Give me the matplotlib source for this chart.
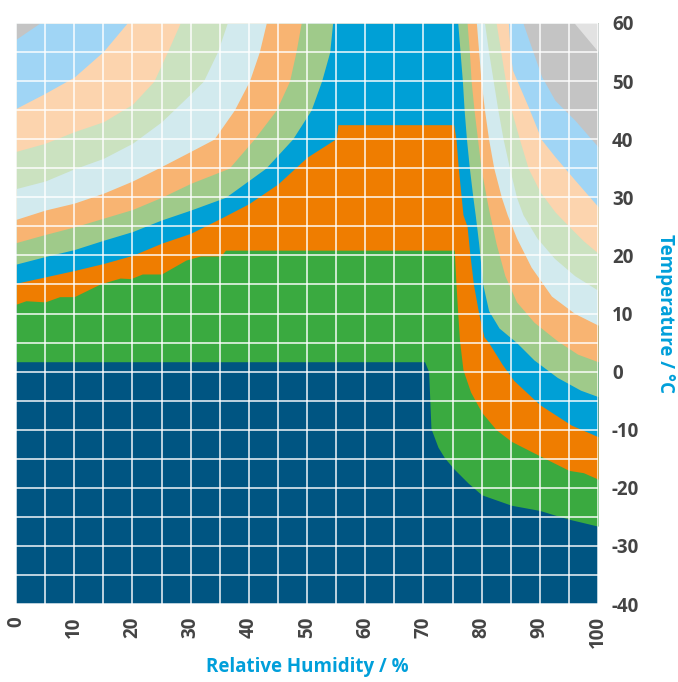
import matplotlib
matplotlib.use("Agg")
import matplotlib.pyplot as plt

# ---------------- data ----------------
rh_ticks = list(range(0, 101, 10))
t_ticks = list(range(-40, 61, 10))

level_colors = ["#005582", "#3AAA40", "#EF7D00", "#00A0D6", "#9FCA8A", "#F8B472",
                "#D2EAEE", "#CBE2C0", "#FCD4AE", "#A0D5F5", "#C4C4C4", "#E2E2E2"]

# lower boundary (temperature as function of RH) of the region with level >= k
lvl1_rh = [0, 70.2, 70.9, 71.3, 72.5, 73.6, 75.2, 77.7, 80, 85.1, 90, 92.6, 95.4, 100]
lvl1_t = [1.7, 1.7, 0, -9.8, -13, -14.8, -16.7, -19.2, -21.2, -23, -23.9, -24.7, -25.5, -26.6]

lvl2_rh = [0, 1.7, 5, 7.5, 10, 14.5, 17.9, 19.7, 21.7, 25, 29.2, 31.7, 35.2, 36, 75.3,
           75.6, 75.9, 76.2, 76.8, 78.1, 80, 82.5, 85.1, 90, 95, 97.5, 100]
lvl2_t = [11.6, 12.2, 12.0, 12.9, 12.9, 15.1, 16.1, 16.0, 16.8, 16.8, 19.2, 19.9, 19.9, 20.9, 20.9,
          15, 10, 5.4, 0.3, -3.5, -7, -10, -12, -14.5, -17.0, -17.4, -18.5]

lvl3_rh = [0, 5, 10, 15, 20, 25, 30, 35, 40, 45, 50, 55, 55.3, 75.2,
           75.6, 76.0, 76.8, 77.5, 78, 78.6, 79.5, 80.4, 81.2, 83.5, 85.5, 90, 95.4, 100]
lvl3_t = [15.2, 16.3, 17.4, 18.6, 20.0, 22.1, 23.8, 26.3, 28.9, 32.3, 36.9, 40.1, 42.5, 42.5,
          40, 35, 27, 25, 20, 15, 10, 6, 5, 1.3, -1.5, -5.7, -9.2, -11.2]

lvl4_rh = [0, 5, 10, 15, 20, 25, 30, 36, 42.9, 47.5, 50.7, 52.5, 53.9, 54.4, 75.9,
           76.3, 76.7, 77.0, 77.4, 77.9, 78.5, 78.9, 79.5, 80.2, 81.2, 83, 86, 89, 93, 97, 100]
lvl4_t = [18.5, 19.8, 21, 22.6, 24.1, 26.1, 27.8, 30, 35, 40, 45, 50, 55, 60, 60,
          55, 50, 45, 40, 35, 30, 27, 22, 15, 10.5, 7.5, 5, 2, -1, -3.2, -4.3]

lvl5_rh = [0, 5, 10, 15, 20, 25, 30, 36.6, 40.9, 44.7, 47, 48.1, 49, 77.5,
           77.9, 78.2, 78.7, 79.3, 79.9, 80.8, 81.4, 82.5, 84, 86, 89, 93, 96.5, 100]
lvl5_t = [22.2, 23.6, 24.9, 26.4, 27.9, 30, 32.4, 35, 40, 45, 50, 55, 60, 60,
          55, 50, 45, 40, 35, 30, 27, 22, 16.5, 12, 8.5, 5.3, 3, 1.7]

lvl6_rh = [0, 5, 10, 15, 20, 25, 30, 34, 37.5, 40.1, 41.8, 43, 79.1,
           79.5, 79.9, 80.5, 81.2, 82.1, 83.4, 84.4, 86, 88.5, 92, 96, 100]
lvl6_t = [26.2, 27.8, 29, 30.7, 32.8, 35.3, 37.9, 40, 45, 50, 55, 60, 60,
          55, 50, 45, 40, 35, 30, 27, 23, 18, 13, 10, 8]

lvl7_rh = [0, 5, 10, 15, 20, 25, 30, 32.2, 34.6, 36.3, 80.5,
           81.2, 82, 82.8, 83.7, 84.8, 86, 87.1, 89.5, 92.5, 96, 100]
lvl7_t = [31.5, 32.8, 34.9, 36.7, 39.3, 43.0, 47.8, 50, 55, 60, 60,
          55, 50, 45, 40, 35, 30, 27, 23, 19.5, 16.5, 14]

lvl8_rh = [0, 5, 10, 15, 20, 23.7, 26, 28.2, 82.5,
           83.3, 84.1, 85.1, 86.5, 88, 90, 92.6, 95, 97.5, 100]
lvl8_t = [37.9, 39.3, 41.3, 43.0, 46.0, 50, 55, 60, 60,
          55, 50, 45, 40, 35, 31, 27.5, 25, 22.5, 20.4]

lvl9_rh = [0, 5, 10, 15, 19.1, 84.6, 84.9, 85.3, 88, 90.3, 92.6, 96, 100]
lvl9_t = [45.3, 47.9, 50.7, 55.1, 60, 60, 55, 51.9, 45.6, 39.9, 37, 33, 28.4]

lvl10_rh = [0, 4.1, 87.1, 90.3, 92.6, 96, 100]
lvl10_t = [57.2, 60, 60, 50.8, 46.7, 43.3, 38.7]

lvl11_rh = [0, 95.9, 100]
lvl11_t = [60, 60, 55.1]

boundaries = [(lvl1_rh, lvl1_t), (lvl2_rh, lvl2_t), (lvl3_rh, lvl3_t), (lvl4_rh, lvl4_t),
              (lvl5_rh, lvl5_t), (lvl6_rh, lvl6_t), (lvl7_rh, lvl7_t), (lvl8_rh, lvl8_t),
              (lvl9_rh, lvl9_t), (lvl10_rh, lvl10_t), (lvl11_rh, lvl11_t)]

# ---------------- plot ----------------
fig = plt.figure(figsize=(6.78, 6.82), dpi=100)
ax = fig.add_axes([16 / 678, 78 / 682, 582 / 678, 581 / 682])

T_MIN, T_MAX = -40, 60
ax.fill_between([0, 100], [T_MIN, T_MIN], [T_MAX, T_MAX], color=level_colors[0], lw=0, zorder=1)
for k, (xs, ys) in enumerate(boundaries, start=1):
    ax.fill_between(xs, ys, T_MAX, color=level_colors[k], lw=0, zorder=1 + k * 0.01)

ax.set_xlim(0, 100)
ax.set_ylim(T_MIN, T_MAX)
ax.set_xticks(rh_ticks)
ax.set_xticks(range(5, 100, 10), minor=True)
ax.set_yticks(t_ticks)
ax.set_yticks(range(-35, 60, 10), minor=True)
ax.set_axisbelow(False)
ax.grid(which="both", color="white", lw=1.3, alpha=0.8)
for s in ax.spines.values():
    s.set_visible(False)

ax.yaxis.tick_right()
ax.yaxis.set_label_position("right")
ax.tick_params(which="both", length=0)
ax.tick_params(axis="y", pad=10)
ax.tick_params(axis="x", pad=9)

tick_font = dict(family="Open Sans", weight="bold", size=13.5, color="#444444")
ax.set_xticklabels([str(v) for v in rh_ticks], rotation=90, **tick_font)
ax.set_yticklabels([str(v) for v in t_ticks], **tick_font)

label_font = dict(family="Open Sans", weight="bold", size=13.5, color="#009FDA")
ax.set_xlabel("Relative Humidity / %", labelpad=6, **label_font)
ax.set_ylabel("Temperature / °C", rotation=-90, labelpad=26, **label_font)

fig.savefig("out.png", dpi=100)
